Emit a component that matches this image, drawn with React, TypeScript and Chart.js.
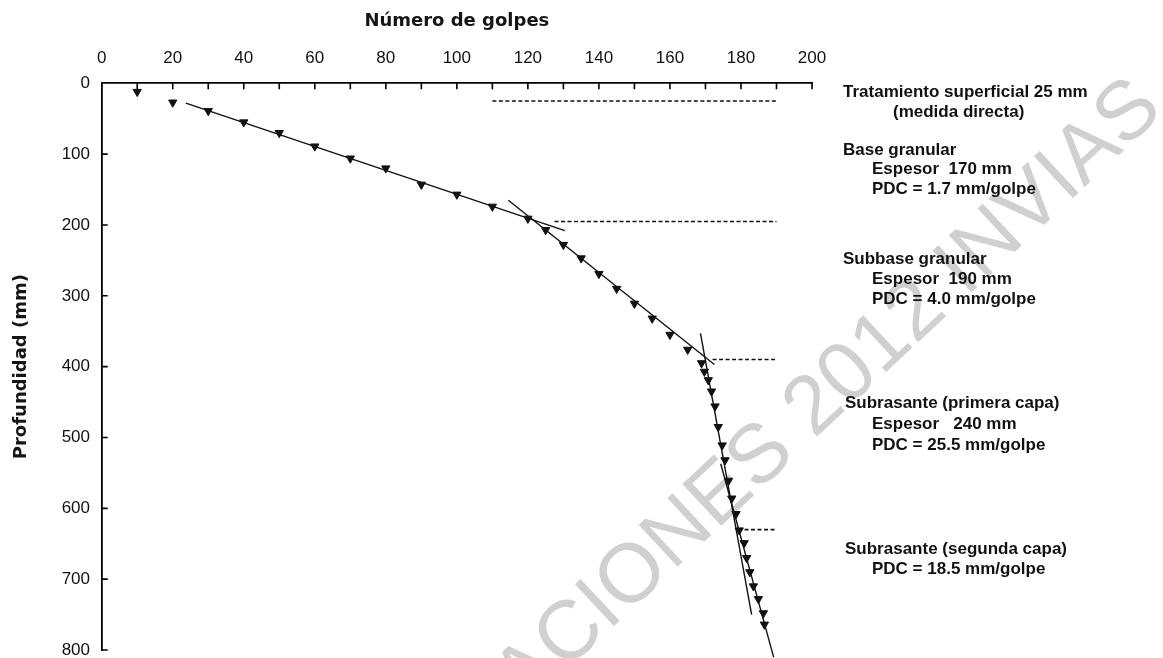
import React, { useEffect, useRef } from 'react';
import { Chart, registerables } from 'chart.js';

Chart.register(...registerables);

// ---- Data ----
const blows = [10, 20, 30, 40, 50, 60, 70, 80, 90, 100, 110, 120, 125, 130, 135, 140, 145, 150, 155, 160, 165, 168.9, 169.7, 170.8, 171.7, 172.7, 173.6, 174.7, 175.5, 176.5, 177.4, 178.6, 179.5, 180.9, 181.6, 182.5, 183.5, 184.9, 186.3, 186.6];
const depthMm = [12, 27, 39, 55, 70, 89, 106, 120, 143, 157, 174, 191, 207, 228, 247, 269, 290, 311, 332, 355, 376, 395, 407, 419, 435, 456, 485, 511, 532, 561, 586, 608, 631, 649, 670, 690, 710, 728, 748, 764];

// fitted straight lines per layer [x0, x1], [y0, y1]
const fitBaseX = [23.7, 130.4];
const fitBaseY = [28, 208];
const fitSubbaseX = [114.5, 172.5];
const fitSubbaseY = [165, 397];
const fitSub1X = [168.6, 183];
const fitSub1Y = [353, 750];
const fitSub2X = [174.3, 189.2];
const fitSub2Y = [537, 810];

// layer boundaries (dashed)
const boundaryDepth = [25, 195, 390, 630];
const boundaryFrom = [110, 127.5, 172, 181];
const boundaryTo = [190, 190, 190, 190];

// axis ticks
const xTickValues = [0, 20, 40, 60, 80, 100, 120, 140, 160, 180, 200];
const yTickValues = [0, 100, 200, 300, 400, 500, 600, 700, 800];

// annotation text
const notes = [
  'Tratamiento superficial 25 mm',
  '(medida directa)',
  'Base granular',
  'Espesor  170 mm',
  'PDC = 1.7 mm/golpe',
  'Subbase granular',
  'Espesor  190 mm',
  'PDC = 4.0 mm/golpe',
  'Subrasante (primera capa)',
  'Espesor   240 mm',
  'PDC = 25.5 mm/golpe',
  'Subrasante (segunda capa)',
  'PDC = 18.5 mm/golpe',
];
const watermark = 'ESPECIFICACIONES 2012 INVIAS';

// ---- layout (pixels) ----
const notePos: [number, number][] = [
  [843, 92], [893, 112],
  [843, 150], [872, 169], [872, 189],
  [843, 259], [872, 279], [872, 299],
  [845, 403], [872, 424], [872, 445],
  [845, 549], [872, 569],
];

const toPts = (xs: number[], ys: number[]) => xs.map((x, i) => ({ x, y: ys[i] }));

export default function App() {
  const ref = useRef<HTMLCanvasElement | null>(null);

  useEffect(() => {
    if (!ref.current) return;

    const fitStyle = {
      type: 'line' as const,
      borderColor: '#111',
      borderWidth: 1.4,
      pointRadius: 0,
      showLine: true,
      fill: false,
    };

    const dashSets = boundaryDepth.map((d, i) => ({
      ...fitStyle,
      data: [{ x: boundaryFrom[i], y: d }, { x: boundaryTo[i], y: d }],
      borderWidth: 1.6,
      borderDash: [4, 2.5],
    }));

    const watermarkPlugin = {
      id: 'watermark',
      beforeDraw(chart: any) {
        const { ctx } = chart;
        ctx.save();
        ctx.translate(1165, 112);
        ctx.rotate((-43 * Math.PI) / 180);
        ctx.font = '83px "Liberation Sans", Arial, sans-serif';
        ctx.fillStyle = '#d0d0d0';
        ctx.textAlign = 'right';
        ctx.textBaseline = 'alphabetic';
        ctx.fillText(watermark, 0, 0);
        ctx.restore();
      },
    };

    const innerTicks = {
      id: 'innerTicks',
      afterDraw(chart: any) {
        const { ctx, chartArea } = chart;
        const xs = chart.scales.x;
        const ys = chart.scales.y;
        ctx.save();
        ctx.strokeStyle = '#000';
        ctx.lineWidth = 1.6;
        ctx.beginPath();
        xs.ticks.forEach((t: any) => {
          if (t.value === 0) return;
          const px = xs.getPixelForValue(t.value);
          ctx.moveTo(px, chartArea.top);
          ctx.lineTo(px, chartArea.top + 6);
        });
        ys.ticks.forEach((t: any) => {
          if (t.value === 0) return;
          const py = ys.getPixelForValue(t.value);
          ctx.moveTo(chartArea.left, py);
          ctx.lineTo(chartArea.left + 6, py);
        });
        ctx.stroke();
        // notes on the right
        ctx.fillStyle = '#111';
        ctx.font = 'bold 17px "Liberation Sans", Arial, sans-serif';
        ctx.textAlign = 'left';
        ctx.textBaseline = 'middle';
        notes.forEach((s, i) => {
          const [nx, ny] = notePos[i];
          ctx.fillText(s, nx, ny);
        });
        ctx.restore();
      },
    };

    const chart = new Chart(ref.current, {
      type: 'scatter',
      data: {
        datasets: [
          {
            label: 'Ensayo',
            data: toPts(blows, depthMm),
            pointStyle: 'triangle',
            pointRotation: 180,
            pointRadius: 4.8,
            backgroundColor: '#111',
            borderColor: '#111',
            borderWidth: 1,
            showLine: false,
          } as any,
          { ...fitStyle, data: toPts(fitBaseX, fitBaseY) } as any,
          { ...fitStyle, data: toPts(fitSubbaseX, fitSubbaseY) } as any,
          { ...fitStyle, data: toPts(fitSub1X, fitSub1Y) } as any,
          { ...fitStyle, data: toPts(fitSub2X, fitSub2Y), clip: false } as any,
          ...(dashSets as any[]),
        ],
      },
      options: {
        animation: false,
        responsive: true,
        maintainAspectRatio: false,
        layout: { padding: { left: 0, top: 0, right: 351, bottom: 8 } },
        plugins: {
          legend: { display: false },
          tooltip: { enabled: false },
        },
        scales: {
          x: {
            type: 'linear',
            position: 'top',
            min: 0,
            max: 200,
            afterBuildTicks: (s: any) => {
              const arr: any[] = [];
              for (let v = 0; v <= 200; v += 10) arr.push({ value: v });
              s.ticks = arr;
            },
            afterFit: (s: any) => {
              s.height = 83.3;
              s.paddingLeft = 0;
              s.paddingRight = 0;
            },
            ticks: {
              autoSkip: false,
              maxRotation: 0,
              padding: 14.8,
              color: '#111',
              font: { family: '"Liberation Sans", Arial, sans-serif', size: 17 },
              callback: (v: any) => (xTickValues.includes(Number(v)) ? String(v) : ''),
            },
            grid: { display: false, drawTicks: false },
            border: { display: true, color: '#000', width: 1.8 },
            title: {
              display: true,
              text: 'Número de golpes',
              color: '#151515',
              font: { family: '"DejaVu Sans", sans-serif', size: 18, weight: 'bold' },
              padding: { top: 10.5, bottom: 0 },
            },
          },
          y: {
            type: 'linear',
            reverse: true,
            min: 0,
            max: 800,
            afterBuildTicks: (s: any) => {
              s.ticks = yTickValues.map((v) => ({ value: v }));
            },
            afterFit: (s: any) => {
              s.width = 101.7;
              s.paddingTop = 0;
              s.paddingBottom = 0;
            },
            ticks: {
              autoSkip: false,
              padding: 11.7,
              color: '#111',
              font: { family: '"Liberation Sans", Arial, sans-serif', size: 17 },
            },
            grid: { display: false, drawTicks: false },
            border: { display: true, color: '#000', width: 1.8 },
            title: {
              display: true,
              text: 'Profundidad (mm)',
              color: '#151515',
              font: { family: '"DejaVu Sans", sans-serif', size: 18, weight: 'bold' },
              padding: { top: 10.5, bottom: 0 },
            },
          },
        },
      } as any,
      plugins: [watermarkPlugin, innerTicks],
    });

    return () => chart.destroy();
  }, []);

  return (
    <div style={{ position: 'fixed', left: 0, top: 0, width: 1163, height: 658, background: '#fff' }}>
      <canvas ref={ref} />
    </div>
  );
}
